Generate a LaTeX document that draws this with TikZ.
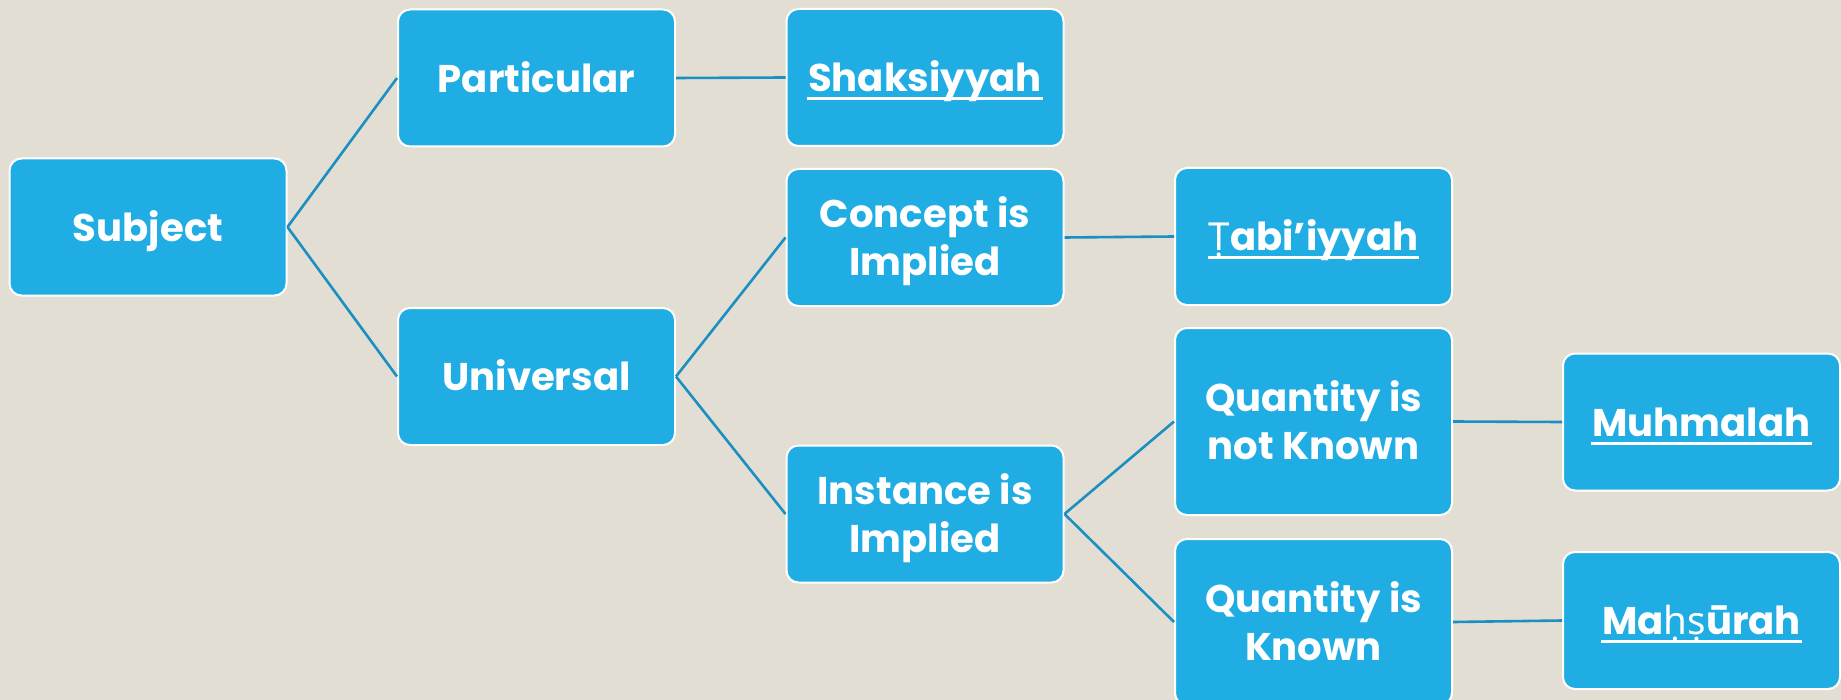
\documentclass[tikz,border=0pt]{standalone}
\usepackage{fontspec}
\setmainfont{Poppins}
% letters with a dot below, which Poppins lacks
\newfontfamily\dotfont{Noto Sans}
\newcommand\dl[1]{{\dotfont #1}}
\definecolor{paper}{HTML}{E3DED3}
\definecolor{boxfill}{HTML}{1FADE3}
\definecolor{linkline}{HTML}{1B8FC2}
% underlined term, with a heavier rule than \underline gives
\newcommand\ulword[1]{\setbox0\hbox{#1}\rlap{\kern-0.5pt\vrule width \dimexpr\wd0+1pt\relax height -2.8pt depth 4.2pt}\box0}
% box label: centred lines, set a little below the middle
\newcommand\lbl[1]{\raisebox{-2.3pt}[\height][\depth]{\begin{tabular}{@{}c@{}}#1\end{tabular}}}
\tikzset{
  box/.style={rectangle, rounded corners=6pt, draw=white, line width=1pt,
    fill=boxfill, text=white, font=\fontsize{19.3}{24}\selectfont\bfseries,
    minimum width=138.5pt, minimum height=68.5pt, inner sep=0pt},
  link/.style={draw=linkline, line width=1.3pt}
}
\begin{document}
\begin{tikzpicture}[x=0.5pt, y=-0.5pt]
  \fill[paper] (0,0) rectangle (1841,700);
  \useasboundingbox (0,0) rectangle (1841,700);

  \node[box] (subject)    at (148,227)     {\lbl{Subject}};
  \node[box] (particular) at (536.5,78)    {\lbl{Particular}};
  \node[box] (shak)       at (925,77.5)    {\lbl{\ulword{Shaksiyyah}}};
  \node[box] (universal)  at (536.5,376.5) {\lbl{Universal}};
  \node[box] (concept)    at (925,237.5)   {\lbl{Concept is\\Implied}};
  \node[box] (tabi)       at (1313.5,236.5){\lbl{\ulword{\dl{Ṭ}abi’iyyah}}};
  \node[box] (instance)   at (925,514)     {\lbl{Instance is\\Implied}};
  \node[box, minimum height=93.5pt] (qnk) at (1313.5,421.5) {\lbl{Quantity is\\not Known}};
  \node[box, minimum height=83pt]   (qk)  at (1313.5,622)   {\lbl{Quantity is\\Known}};
  \node[box] (muhmalah)   at (1701.5,422)  {\lbl{\ulword{Muhmalah}}};
  \node[box] (mahsurah)   at (1701.5,620.5){\lbl{\ulword{Ma\dl{ḥṣ}ūrah}}};

  \draw[link] (subject.east) -- (particular.west);
  \draw[link] (subject.east) -- (universal.west);
  \draw[link] (particular.east) -- (shak.west);
  \draw[link] (universal.east) -- (concept.west);
  \draw[link] (universal.east) -- (instance.west);
  \draw[link] (concept.east) -- (tabi.west);
  \draw[link] (instance.east) -- (qnk.west);
  \draw[link] (instance.east) -- (qk.west);
  \draw[link] (qnk.east) -- (muhmalah.west);
  \draw[link] (qk.east) -- (mahsurah.west);
\end{tikzpicture}
\end{document}
